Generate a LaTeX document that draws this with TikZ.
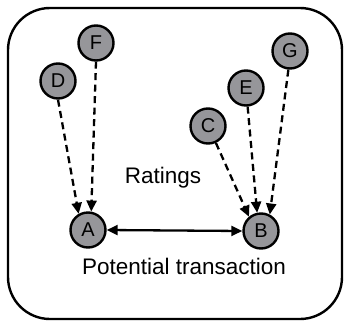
\documentclass[tikz,border=0pt]{standalone}
\usepackage{fontspec}
\setmainfont{Liberation Sans}
\usetikzlibrary{arrows.meta}
\begin{document}
\begin{tikzpicture}[x=1pt,y=-1pt,
  agent/.style={circle,draw=black,line width=2.4pt,fill={rgb,255:red,150;green,150;blue,154},
    minimum size=35pt,inner sep=0pt,font=\fontsize{20}{22}\selectfont},
  rating/.style={line width=2.3pt,dash pattern=on 7pt off 4.5pt,
    -{Triangle[length=11pt,width=10pt]}},
  deal/.style={line width=2.3pt,{Triangle[length=11pt,width=10pt]}-{Triangle[length=11pt,width=10pt]}},
  lbl/.style={font=\fontsize{22.5}{26}\selectfont,anchor=base,inner sep=0pt}]
\useasboundingbox (0,0) rectangle (344,321);
% frame
\draw[line width=2.4pt,rounded corners=42pt] (8,8) rectangle (342,319);
% agents
\node[agent] (A) at (88,230) {A};
\node[agent] (B) at (261,231) {B};
\node[agent] (C) at (208,126) {C};
\node[agent] (D) at (58,81) {D};
\node[agent] (E) at (246,88) {E};
\node[agent] (F) at (96,43) {F};
\node[agent] (G) at (290,51) {G};
% ratings flowing to A and B
\draw[rating] (D.270) -- (A.120);
\draw[rating] (F.270) -- (A.80);
\draw[rating] (C.295) -- (B.130);
\draw[rating] (E.275) -- (B.102);
\draw[rating] (G.265) -- (B.62);
% transaction between A and B
\draw[deal] (A.east) -- (B.west);
% labels
\node[lbl] (rt) at (163,183) {Ratings};
\node[lbl] (pt) at (184,274) {Potential transaction};
\end{tikzpicture}
\end{document}
